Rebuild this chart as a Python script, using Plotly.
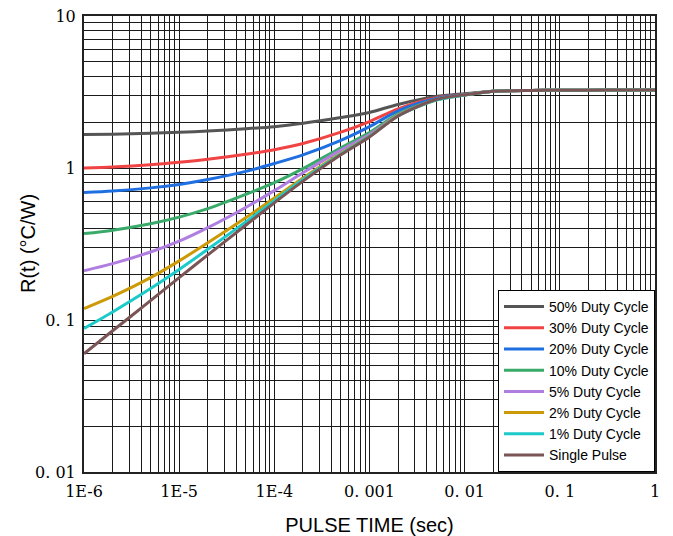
import plotly.graph_objects as go

# Pulse time (sec)
t = [1e-6, 2e-6, 5e-6, 1e-5, 2e-5, 5e-5, 1e-4, 2e-4, 5e-4, 1e-3, 2e-3, 5e-3,
     1e-2, 2e-2, 5e-2, 0.1, 0.2, 0.5, 1.0]

# R(t) in degC/W
r50 = [1.66, 1.67, 1.69, 1.72, 1.75, 1.81, 1.87, 1.97, 2.15, 2.32, 2.62, 2.95,
       3.08, 3.20, 3.24, 3.25, 3.25, 3.26, 3.26]
r30 = [1.00, 1.015, 1.05, 1.09, 1.14, 1.23, 1.32, 1.45, 1.72, 2.02, 2.45, 2.90,
       3.05, 3.20, 3.24, 3.25, 3.25, 3.26, 3.26]
r20 = [0.69, 0.705, 0.74, 0.78, 0.84, 0.95, 1.07, 1.22, 1.52, 1.87, 2.38, 2.87,
       3.04, 3.20, 3.24, 3.25, 3.25, 3.26, 3.26]
r10 = [0.37, 0.39, 0.43, 0.475, 0.54, 0.67, 0.80, 0.99, 1.36, 1.71, 2.27, 2.83,
       3.03, 3.20, 3.24, 3.25, 3.25, 3.26, 3.26]
r5 = [0.211, 0.235, 0.28, 0.33, 0.405, 0.55, 0.71, 0.93, 1.31, 1.66, 2.23, 2.81,
      3.02, 3.20, 3.24, 3.25, 3.25, 3.26, 3.26]
r2 = [0.119, 0.143, 0.19, 0.245, 0.322, 0.47, 0.635, 0.86, 1.25, 1.62, 2.21, 2.80,
      3.02, 3.20, 3.24, 3.25, 3.25, 3.26, 3.26]
r1 = [0.088, 0.113, 0.161, 0.215, 0.292, 0.442, 0.61, 0.84, 1.235, 1.61, 2.20, 2.80,
      3.02, 3.20, 3.24, 3.25, 3.25, 3.26, 3.26]
rsp = [0.060, 0.085, 0.134, 0.19, 0.268, 0.42, 0.59, 0.82, 1.22, 1.60, 2.20, 2.82,
       3.03, 3.20, 3.24, 3.25, 3.25, 3.26, 3.26]

names = ["50% Duty Cycle", "30% Duty Cycle", "20% Duty Cycle", "10% Duty Cycle",
         "5% Duty Cycle", "2% Duty Cycle", "1% Duty Cycle", "Single Pulse"]
series = [r50, r30, r20, r10, r5, r2, r1, rsp]
colors = ["#555555", "#f04444", "#1f6fe0", "#3aaa6a", "#b07ee0", "#cc9a06",
          "#1ccaca", "#7b5555"]

x_tickvals = [1e-6, 1e-5, 1e-4, 1e-3, 1e-2, 1e-1, 1]
x_ticktext = ["1E-6", "1E-5", "1E-4", "0. 001", "0. 01", "0. 1", "1"]
y_tickvals = [0.01, 0.1, 1, 10]
y_ticktext = ["0. 01", "0. 1", "1", "10"]

x_minor = [m * 10.0 ** e for e in range(-6, 0) for m in range(2, 10)]
y_minor = [m * 10.0 ** e for e in range(-2, 1) for m in range(2, 10)]

fig = go.Figure()
for name, ys, c in zip(names, series, colors):
    fig.add_trace(go.Scatter(x=t, y=ys, name=name, mode="lines",
                             line=dict(color=c, width=3, shape="spline", smoothing=0.8)))

serif = "DejaVu Serif, Liberation Serif, serif"
sans = "Liberation Sans, Arial, sans-serif"
fig.update_layout(
    width=673, height=536,
    margin=dict(l=84, r=18, t=16, b=64, autoexpand=False),
    paper_bgcolor="white", plot_bgcolor="white",
    font=dict(family=sans, color="black"),
    showlegend=True,
    legend=dict(x=1, y=0, xanchor="right", yanchor="bottom",
                bgcolor="white", bordercolor="black", borderwidth=1,
                font=dict(size=14, family=sans),
                tracegroupgap=0, itemwidth=40),
    annotations=[dict(text="R(t) (°C/W)", textangle=-90, xref="paper", yref="paper",
                      x=0, y=0.5, xanchor="center", yanchor="middle", xshift=-56,
                      showarrow=False, font=dict(size=20, family=sans, color="black"))],
)
fig.update_xaxes(
    type="log", range=[-6, 0], automargin=False,
    tickmode="array", tickvals=x_tickvals, ticktext=x_ticktext,
    tickfont=dict(family=serif, size=16), ticks="", ticklabelstandoff=4,
    showgrid=True, gridcolor="#1a1a1a", gridwidth=1.2,
    minor=dict(tickmode="array", tickvals=x_minor, showgrid=True,
               gridcolor="#1a1a1a", gridwidth=1.2, ticks=""),
    showline=True, linecolor="#222222", linewidth=2, mirror=True,
    title=dict(text="PULSE TIME (sec)", font=dict(size=20), standoff=18),
    zeroline=False,
)
fig.update_yaxes(
    type="log", range=[-2, 1], automargin=False,
    tickmode="array", tickvals=y_tickvals, ticktext=y_ticktext,
    tickfont=dict(family=serif, size=16), ticks="", ticklabelstandoff=3,
    showgrid=True, gridcolor="#1a1a1a", gridwidth=1.2,
    minor=dict(tickmode="array", tickvals=y_minor, showgrid=True,
               gridcolor="#1a1a1a", gridwidth=1.2, ticks=""),
    showline=True, linecolor="#222222", linewidth=2, mirror=True,
    zeroline=False,
)

fig.write_html("out.html", config={"displayModeBar": False},
               post_script="document.body.style.margin='0';document.body.style.overflow='hidden';")
